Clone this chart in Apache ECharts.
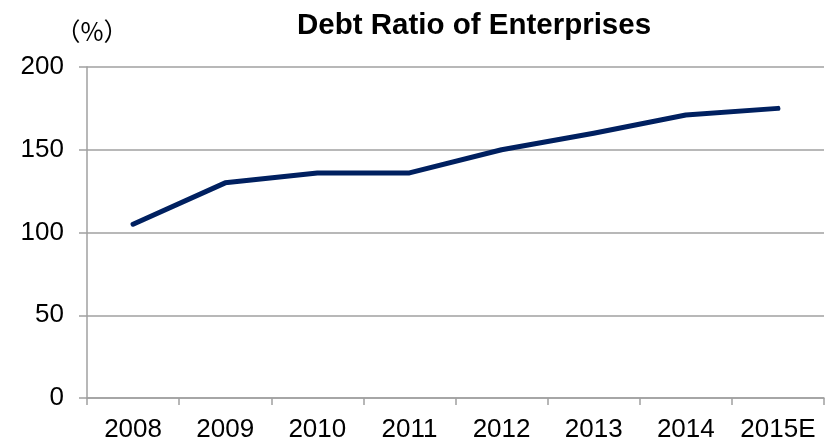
<!DOCTYPE html>
<html>
<head>
<meta charset="utf-8">
<script src="https://cdn.jsdelivr.net/npm/echarts@6/dist/echarts.min.js"></script>
<style>
  html, body { margin: 0; padding: 0; background: #ffffff; }
  #chart { width: 826px; height: 446px; }
</style>
</head>
<body>
<div id="chart"></div>
<script>
// Corporate debt ratio by year (%), 2015 is an estimate
const years = ['2008', '2009', '2010', '2011', '2012', '2013', '2014', '2015E'];
const debtRatio = [105, 130, 136, 136, 150, 160, 171, 175];
const yTicks = { min: 0, max: 200, interval: 50 };

const gray = '#a0a0a0';
const font = '"Liberation Sans", Arial, "Noto Sans CJK SC", sans-serif';

const chart = echarts.init(document.getElementById('chart'), null, { renderer: 'canvas' });
chart.setOption({
  animation: false,
  backgroundColor: '#ffffff',
  title: {
    text: 'Debt Ratio of Enterprises',
    left: 292,
    top: 6,
    textStyle: { fontFamily: font, fontSize: 29.5, fontWeight: 'bold', color: '#000000' }
  },
  grid: { left: 87, right: 2, top: 67, bottom: 48, containLabel: false },
  xAxis: {
    type: 'category',
    data: years,
    boundaryGap: true,
    axisLine: { lineStyle: { color: gray, width: 1.5 } },
    axisTick: { show: true, length: 7, interval: 0, lineStyle: { color: gray, width: 1.5 } },
    axisLabel: { interval: 0, fontFamily: font, fontSize: 26, color: '#000000', margin: 19 },
    splitLine: { show: false }
  },
  yAxis: {
    type: 'value',
    min: yTicks.min,
    max: yTicks.max,
    interval: yTicks.interval,
    name: '（%）',
    nameLocation: 'end',
    nameGap: 23,
    nameTextStyle: { fontFamily: 'Noto Sans CJK SC', fontSize: 25, color: '#000000', padding: [0, 0, 0, 10] },
    axisLine: { show: true, lineStyle: { color: gray, width: 1.5 } },
    axisTick: { show: true, length: 8, lineStyle: { color: gray, width: 1.5 } },
    axisLabel: { fontFamily: font, fontSize: 26, color: '#000000', margin: 23 },
    splitLine: { show: true, lineStyle: { color: gray, width: 1.5 } }
  },
  series: [{
    type: 'line',
    data: debtRatio,
    symbol: 'none',
    lineStyle: { color: '#002060', width: 5, cap: 'round', join: 'round' }
  }]
});
</script>
</body>
</html>
